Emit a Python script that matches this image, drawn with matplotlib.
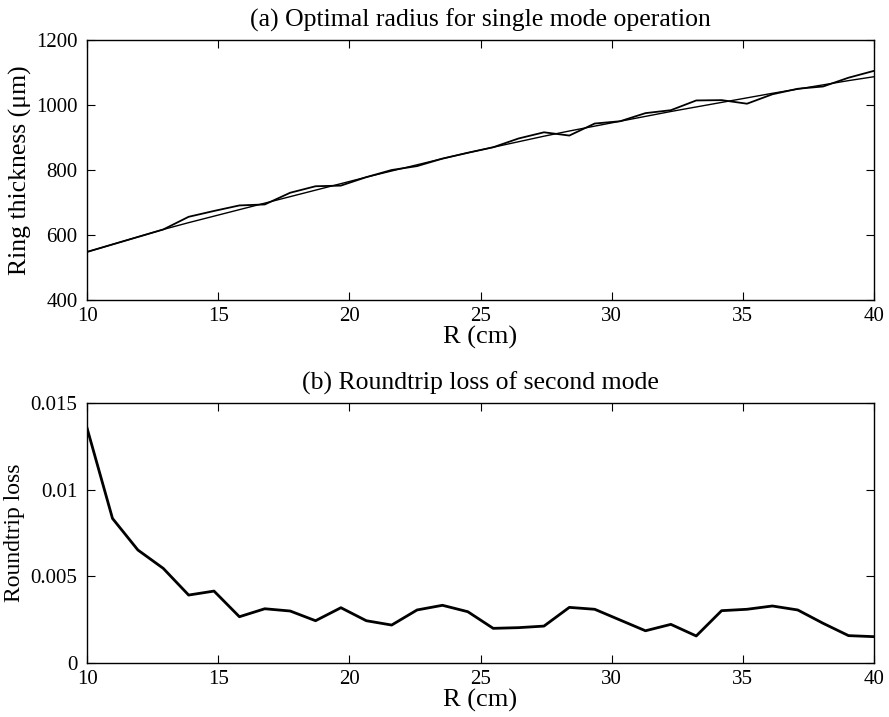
import numpy as np
import matplotlib
matplotlib.use("Agg")
import matplotlib.pyplot as plt

plt.rcParams['font.family'] = ['Liberation Serif', 'DejaVu Serif']
plt.rcParams['mathtext.fontset'] = 'stix'

# 半径采样点 (cm)
R = np.linspace(10, 40, 32)

# (a) 环厚度 (um)：平滑曲线与锯齿曲线
thick_smooth = [548, 571, 594, 617, 638, 658, 678, 698, 718, 738, 758, 778,
                797, 816, 835, 853, 870, 887, 904, 920, 935, 950, 965, 980,
                994, 1008, 1022, 1036, 1049, 1062, 1075, 1087]
thick_jagged = [548, 571, 594, 617, 656, 674, 691, 694, 730, 750, 752, 778,
                800, 812, 835, 853, 870, 897, 916, 906, 943, 950, 975, 984,
                1014, 1015, 1004, 1033, 1050, 1057, 1084, 1105]

# (b) 第二模式的往返损耗
loss = [0.01354, 0.00834, 0.00652, 0.00546, 0.00392, 0.00415, 0.00267,
        0.00313, 0.00300, 0.00244, 0.00319, 0.00244, 0.00219, 0.00306,
        0.00333, 0.00296, 0.00200, 0.00204, 0.00213, 0.00321, 0.00310,
        0.00248, 0.00186, 0.00223, 0.00156, 0.00302, 0.00310, 0.00329,
        0.00306, 0.00229, 0.00158, 0.00152]

x_ticks = [10, 15, 20, 25, 30, 35, 40]
top_yticks = [400, 600, 800, 1000, 1200]
bot_yticks = [0, 0.005, 0.01, 0.015]
bot_ylabels = ['0', '0.005', '0.01', '0.015']

fig = plt.figure(figsize=(8.89, 7.17), dpi=100, facecolor='white')
ax1 = fig.add_axes([0.098, 0.5816, 0.885, 0.3626])
ax2 = fig.add_axes([0.098, 0.0753, 0.885, 0.3626])

# 上图
ax1.plot(R, thick_smooth, color='black', lw=1.0)
ax1.plot(R, thick_jagged, color='black', lw=1.3)
ax1.set_xlim(10, 40)
ax1.set_ylim(400, 1200)
ax1.set_yticks(top_yticks)
ax1.set_title('(a) Optimal radius for single mode operation', fontsize=18.5, pad=10)
ax1.set_ylabel('Ring thickness (μm)', fontsize=18.5, labelpad=3)
ax1.set_xlabel('R (cm)', fontsize=19, labelpad=0)

# 下图
ax2.plot(R, loss, color='black', lw=2.0)
ax2.set_xlim(10, 40)
ax2.set_ylim(0, 0.015)
ax2.set_yticks(bot_yticks)
ax2.set_yticklabels(bot_ylabels)
ax2.set_title('(b) Roundtrip loss of second mode', fontsize=18.5, pad=10)
ax2.set_ylabel('Roundtrip loss', fontsize=17, labelpad=4)
ax2.set_xlabel('R (cm)', fontsize=19, labelpad=0)

for ax in (ax1, ax2):
    ax.set_xticks(x_ticks)
    ax.tick_params(direction='in', top=True, right=True, length=6,
                   width=0.8, labelsize=15)
    ax.tick_params(axis='x', pad=5)
    ax.tick_params(axis='y', pad=7)
    for s in ax.spines.values():
        s.set_linewidth(1.0)

fig.savefig('out.png', dpi=100)
